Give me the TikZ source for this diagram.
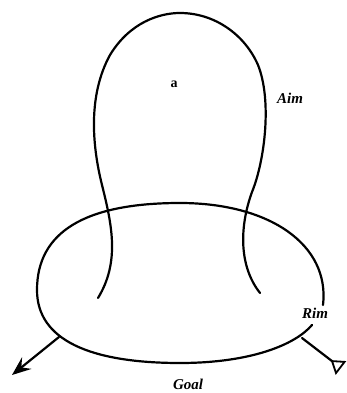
\documentclass[tikz,border=0pt]{standalone}
\usepackage{fontspec}
\setmainfont{Liberation Serif}
\usetikzlibrary{arrows.meta}

\begin{document}
\begin{tikzpicture}[x=1pt, y=-1pt,
  lbl/.style={font=\fontsize{15}{17}\selectfont\bfseries\itshape, inner sep=1pt},
  stroke/.style={line width=2.2pt, line cap=round},
  arrow/.style={stroke, -{Stealth[length=19pt, width=15pt, inset=7pt]}},
  tail/.style={stroke, -{Triangle[open, reversed, length=13pt, width=17pt, line width=1.8pt]}}
]
\useasboundingbox (0,0) rectangle (347,393);

\coordinate (jl) at (59,337);
\coordinate (jr) at (302,338);
\coordinate (goaltip) at (12,375);
\coordinate (rimtip) at (341,368);

\draw[stroke] (323,305) .. controls (330,245) and (270,203) .. (180,203)
  .. controls (85,203) and (37,232) .. (37,290)
  .. controls (37,340) and (90,363) .. (180,363)
  .. controls (250,363) and (295,345) .. (312,325);

\draw[stroke] (98,298) .. controls (120,262) and (112,225) .. (102,185)
  .. controls (92,145) and (88,95) .. (110,55)
  .. controls (130,22) and (160,13) .. (180,13)
  .. controls (215,13) and (245,35) .. (258,65)
  .. controls (272,100) and (265,160) .. (252,192)
  .. controls (240,225) and (238,265) .. (260,293);

\node[lbl, font=\fontsize{14}{16}\selectfont\bfseries] (a) at (174,84) {a};
\node[lbl] (aim) at (290,98) {Aim};
\node[lbl] (rim) at (315,313) {Rim};
\node[lbl] (goal) at (188,384) {Goal};

\draw[arrow] (jl) -- (goaltip);
\draw[tail] (jr) -- (rimtip);

\end{tikzpicture}
\end{document}
